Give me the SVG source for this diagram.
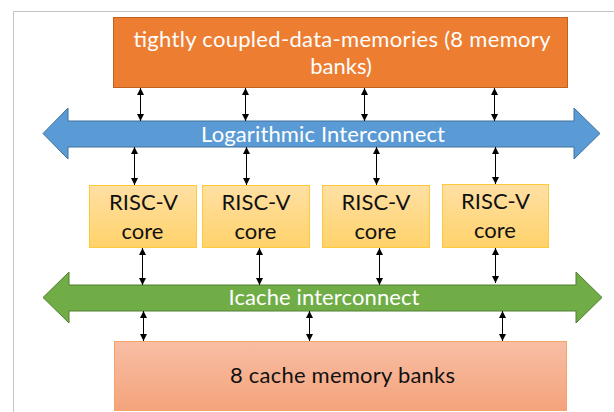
<svg xmlns="http://www.w3.org/2000/svg" width="614" height="412" viewBox="0 0 614 412">
  <style>
    .lbl { font-family: Lato, "Open Sans", "Liberation Sans", sans-serif; font-size: 22px; text-anchor: middle; }
    .w { fill: #ffffff; }
    .k { fill: #111111; }
    .conn { stroke: #000000; stroke-width: 1; fill: none; marker-start: url(#ah); marker-end: url(#ah); }
    .core { fill: url(#gCore); stroke: #FFC93C; stroke-width: 1; }
  </style>
  <defs>
    <marker id="ah" viewBox="0 0 10 10" refX="10" refY="5" markerWidth="7" markerHeight="8" markerUnits="userSpaceOnUse" orient="auto-start-reverse">
      <path d="M0,0 L10,5 L0,10 z" fill="#000000"/>
    </marker>
    <linearGradient id="gCore" x1="0" y1="0" x2="0" y2="1">
      <stop offset="0" stop-color="#FFE0A4"/>
      <stop offset="1" stop-color="#FFD26A"/>
    </linearGradient>
    <linearGradient id="gCache" x1="0" y1="0" x2="0" y2="1">
      <stop offset="0" stop-color="#F8BEA4"/>
      <stop offset="1" stop-color="#F4A37B"/>
    </linearGradient>
  </defs>

  <rect x="13.5" y="11.5" width="700" height="500" fill="none" stroke="#C4C4C4" stroke-width="1"/>

  <g id="tcdm">
    <rect x="113.5" y="17.5" width="454" height="70" fill="#ED7D31" stroke="#C0621F" stroke-width="1"/>
    <text class="lbl w" x="342" y="47" textLength="417">tightly coupled-data-memories (8 memory</text>
    <text class="lbl w" x="341" y="74">banks)</text>
  </g>

  <g id="log-interconnect">
    <polygon points="43,133.5 68,108 68,121 574,121 574,108 600,133.5 574,159 574,147 68,147 68,159" fill="#5B9BD5" stroke="#41719C" stroke-width="1"/>
    <text class="lbl w" x="323" y="142" textLength="244">Logarithmic Interconnect</text>
  </g>

  <g id="core1">
    <rect class="core" x="89.5" y="185.5" width="107" height="62"/>
    <text class="lbl k" x="143.5" y="210">RISC-V</text>
    <text class="lbl k" x="142.5" y="239">core</text>
  </g>
  <g id="core2">
    <rect class="core" x="202.5" y="185.5" width="107" height="62"/>
    <text class="lbl k" x="256" y="210">RISC-V</text>
    <text class="lbl k" x="255.5" y="239">core</text>
  </g>
  <g id="core3">
    <rect class="core" x="322.5" y="185.5" width="107" height="62"/>
    <text class="lbl k" x="376" y="210">RISC-V</text>
    <text class="lbl k" x="375.5" y="239">core</text>
  </g>
  <g id="core4">
    <rect class="core" x="442.5" y="184.5" width="106" height="63"/>
    <text class="lbl k" x="495.5" y="209">RISC-V</text>
    <text class="lbl k" x="495" y="238">core</text>
  </g>

  <g id="icache-interconnect">
    <polygon points="43,297.5 69,272 69,285 576,285 576,272 602,297.5 576,323 576,311 69,311 69,323" fill="#70AD47" stroke="#507E32" stroke-width="1"/>
    <text class="lbl w" x="324" y="305" textLength="191">Icache interconnect</text>
  </g>

  <g id="cache-banks">
    <rect x="114.5" y="341.5" width="452" height="69" fill="url(#gCache)" stroke="#F4A468" stroke-width="1"/>
    <text class="lbl k" x="342.5" y="383" textLength="225">8 cache memory banks</text>
  </g>

  <g id="connectors">
    <line class="conn" x1="140.5" y1="88" x2="140.5" y2="121"/>
    <line class="conn" x1="245.5" y1="88" x2="245.5" y2="121"/>
    <line class="conn" x1="364.5" y1="88" x2="364.5" y2="121"/>
    <line class="conn" x1="494.5" y1="88" x2="494.5" y2="121"/>

    <line class="conn" x1="134.5" y1="147" x2="134.5" y2="185"/>
    <line class="conn" x1="246.5" y1="147" x2="246.5" y2="185"/>
    <line class="conn" x1="376.5" y1="147" x2="376.5" y2="185"/>
    <line class="conn" x1="495.5" y1="147" x2="495.5" y2="184"/>

    <line class="conn" x1="142.5" y1="248" x2="142.5" y2="285"/>
    <line class="conn" x1="259.5" y1="248" x2="259.5" y2="285"/>
    <line class="conn" x1="379.5" y1="248" x2="379.5" y2="285"/>
    <line class="conn" x1="495.5" y1="248" x2="495.5" y2="283"/>

    <line class="conn" x1="143.5" y1="311" x2="143.5" y2="341"/>
    <line class="conn" x1="309.5" y1="311" x2="309.5" y2="341"/>
    <line class="conn" x1="502.5" y1="311" x2="502.5" y2="341"/>
  </g>
</svg>
